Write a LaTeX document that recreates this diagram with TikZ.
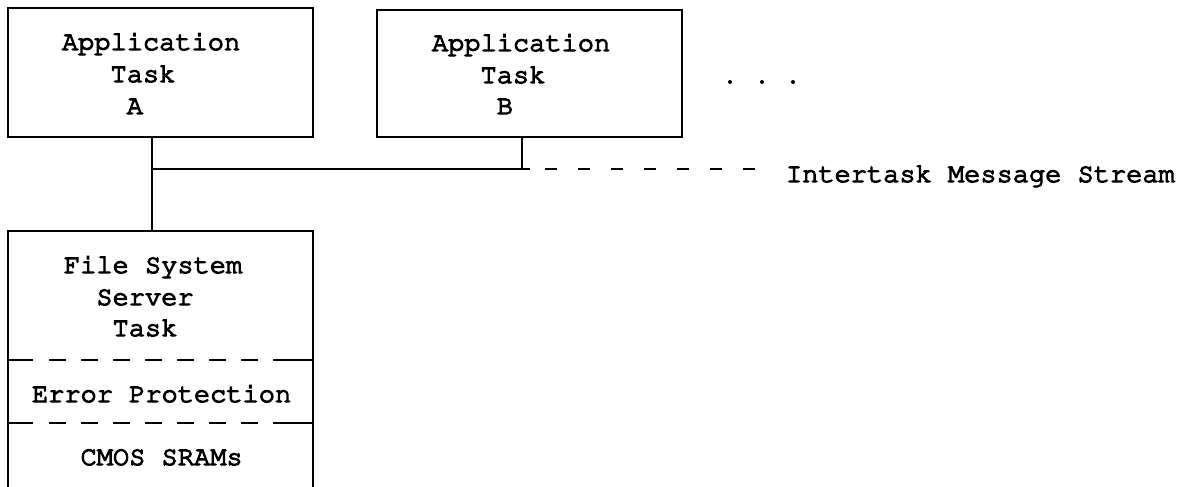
\documentclass[tikz,border=0pt]{standalone}
\usepackage[T1]{fontenc}
\renewcommand{\ttdefault}{pcr}
\usetikzlibrary{calc}
\newcommand{\inkheavy}[1]{\special{pdf:literal q 2 Tr 1.2 w}#1\special{pdf:literal Q}}
\begin{document}
\begin{tikzpicture}[x=1pt,y=-1pt,line width=1.7pt,
  box/.style={draw,rectangle,inner sep=0pt,outer sep=0pt,anchor=north west,minimum width=305pt},
  txt/.style={anchor=base west,inner sep=0pt,outer sep=0pt,font=\ttfamily\fontsize{27}{31}\selectfont},
  divider/.style={line width=1.5pt,dash pattern=on 25pt off 16pt on 17pt off 15pt on 17pt off 15pt on 17pt off 15pt on 17pt off 15pt on 17pt off 15pt on 17pt off 15pt on 17pt off 15pt on 40pt},
  busdash/.style={line width=1.5pt,dash pattern=on 12pt off 21pt},
  dot/.style={circle,fill,inner sep=0pt,minimum size=4pt}]
\useasboundingbox (0,0) rectangle (1179,487);
\clip (0,0) rectangle (1179,487);
% boxes
\node[box,minimum height=129pt] (A) at (8,8) {};
\node[box,minimum height=127pt] (B) at (377,10) {};
\node[box,minimum height=320pt] (F) at (8,231) {};
% texts in A
\node[txt] (a1) at (62,50) {\inkheavy{Application}};
\node[txt] (a2) at (110.6,82) {\inkheavy{Task}};
\node[txt] (a3) at (126.8,114) {\inkheavy{A}};
% texts in B
\node[txt] (b1) at (432,51) {\inkheavy{Application}};
\node[txt] (b2) at (480.6,83) {\inkheavy{Task}};
\node[txt] (b3) at (496.8,114) {\inkheavy{B}};
% texts in F
\node[txt] (f1) at (64,273) {\inkheavy{File System}};
\node[txt] (f2) at (96.4,305) {\inkheavy{Server}};
\node[txt] (f3) at (112.6,336) {\inkheavy{Task}};
\node[txt] (f4) at (32,402) {\inkheavy{Error Protection}};
\node[txt] (f5) at (80.6,465) {\inkheavy{CMOS SRAMs}};
% dividers
\draw[divider] ($(F.north west)+(0,129)$) -- ($(F.north east)+(0,129)$);
\draw[divider] ($(F.north west)+(0,192)$) -- ($(F.north east)+(0,192)$);
% connectors
\coordinate (ja) at (152,169);
\coordinate (jb) at (522,169);
\coordinate (busend) at (530,169);
\coordinate (d1) at (545,169);
\coordinate (d2) at (757,169);
\draw (A.south -| ja) -- (F.north -| ja);
\draw (ja) -- (busend);
\draw (B.south -| jb) -- (jb);
\draw[busdash] (d1) -- (d2);
\node[txt] (msg) at (786,182) {\inkheavy{Intertask Message Stream}};
% ellipsis dots
\node[dot] (p1) at (730,82) {};
\node[dot] (p2) at (762,82) {};
\node[dot] (p3) at (793,82) {};
\end{tikzpicture}
\end{document}
